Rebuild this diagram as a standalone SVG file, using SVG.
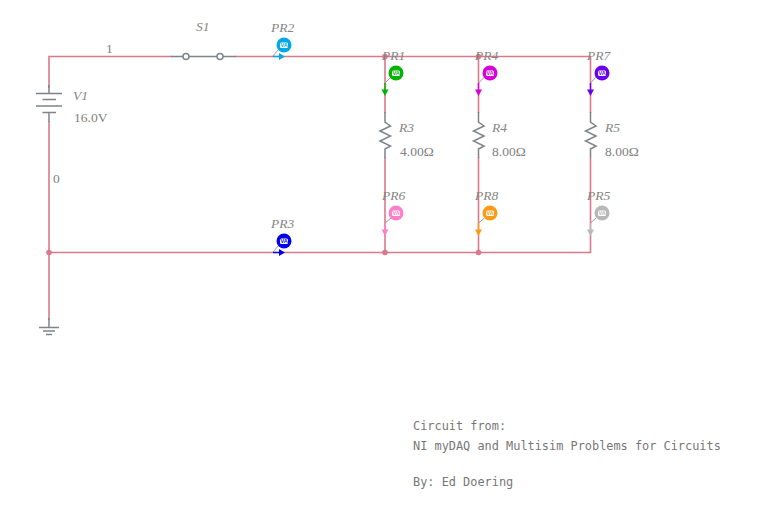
<svg xmlns="http://www.w3.org/2000/svg" width="778" height="510" viewBox="0 0 778 510">
<style>
.w{stroke:#d9798a;stroke-width:1.6;fill:none}
.c{stroke:#7f8488;stroke-width:1.5;fill:none}
.j{fill:#d9798a}
.l{font:italic 13.5px "Liberation Serif",serif;fill:#858585}
.v{font:13.5px "Liberation Serif",serif;fill:#808080}
.m{font:11.9px "DejaVu Sans Mono","Liberation Mono",monospace;fill:#777}
.pt{font:bold 5.5px "Liberation Sans",sans-serif;text-anchor:middle}
.bx{fill:#fff}
.ld{stroke:#999;stroke-width:1;fill:none}
</style>
<rect width="778" height="510" fill="#fff"/>
<g id="connectors">
<path class="w" d="M49 88V56.500H172M235 56.500H590.500V113M49 121V320M49 252.500H590.500V158M385 56.500V113M478.500 56.500V113M385 157V252.500M478.500 157V252.500"/>
<circle class="j" cx="49" cy="252.500" r="2.800"/><circle class="j" cx="385" cy="252.500" r="2.800"/><circle class="j" cx="478.500" cy="252.500" r="2.800"/>
<circle class="j" cx="385" cy="56.500" r="2.800"/><circle class="j" cx="478.500" cy="56.500" r="2.800"/>
<text class="v" x="106" y="53">1</text><text class="v" x="53" y="183">0</text>
</g>
<g id="V1"><path class="c" d="M49 85V93M36 93.500H62M42.500 99.500H56M36 106H62M42.500 112.500H56M49 112V122"/><text class="l" x="73" y="100">V1</text><text class="v" x="74" y="122">16.0V</text></g>
<g id="S1"><path class="c" d="M171 56.500H183M189 56.500H217M223 56.500H236"/><circle class="c" cx="186" cy="56.500" r="3"/><circle class="c" cx="220" cy="56.500" r="3"/><text class="l" x="196" y="31">S1</text></g>
<g id="GND"><path class="c" d="M49 318V327M39 327.500H59M43 331H55M46 334.500H52"/></g>
<g id="R3"><path class="c" d="M385 112V122L390.500 126L380 131L390.500 136L380 141L390.500 146L385 149V158"/><text class="l" x="399" y="132">R3</text><text class="v" x="400" y="156">4.00Ω</text></g>
<g id="R4"><path class="c" d="M478.500 112V122L484 126L473.500 131L484 136L473.500 141L484 146L478.500 149V158"/><text class="l" x="492" y="132">R4</text><text class="v" x="492" y="156">8.00Ω</text></g>
<g id="R5"><path class="c" d="M590.500 112V122L596 126L585.500 131L596 136L585.500 141L596 146L590.500 149V158"/><text class="l" x="605" y="132">R5</text><text class="v" x="605" y="156">8.00Ω</text></g>
<g id="PR1"><path class="ld" d="M391 77L385 83"/><path d="M385 83V90" stroke="#00b400" stroke-width="1.400"/><path d="M381.500 89.500H388.500L385 96Z" fill="#00b400"/><circle cx="396" cy="73" r="7.500" fill="#00b400"/><rect class="bx" x="392" y="70.500" width="8" height="5.500" rx="1.500"/><text class="pt" x="396" y="75.300" fill="#00b400">VA</text><text class="l" x="382" y="60">PR1</text></g>
<g id="PR4"><path class="ld" d="M484.500 77L478.500 83"/><path d="M478.500 83V90" stroke="#d800d8" stroke-width="1.400"/><path d="M475 89.500H482L478.500 96Z" fill="#d800d8"/><circle cx="490" cy="73" r="7.500" fill="#d800d8"/><rect class="bx" x="486" y="70.500" width="8" height="5.500" rx="1.500"/><text class="pt" x="490" y="75.300" fill="#d800d8">VA</text><text class="l" x="475" y="60">PR4</text></g>
<g id="PR7"><path class="ld" d="M596 77L590.500 83"/><path d="M590.500 83V90" stroke="#6a00f0" stroke-width="1.400"/><path d="M587 89.500H594L590.500 96Z" fill="#6a00f0"/><circle cx="602" cy="73" r="7.500" fill="#6a00f0"/><rect class="bx" x="598" y="70.500" width="8" height="5.500" rx="1.500"/><text class="pt" x="602" y="75.300" fill="#6a00f0">VA</text><text class="l" x="587" y="60">PR7</text></g>
<g id="PR6"><path class="ld" d="M391 218L385 223"/><path d="M385 223V230" stroke="#ff80c8" stroke-width="1.400"/><path d="M381.500 229.500H388.500L385 236Z" fill="#ff80c8"/><circle cx="396" cy="213" r="7.500" fill="#ff80c8"/><rect class="bx" x="392" y="210.500" width="8" height="5.500" rx="1.500"/><text class="pt" x="396" y="215.300" fill="#ff80c8">VA</text><text class="l" x="382" y="200">PR6</text></g>
<g id="PR8"><path class="ld" d="M484.500 218L478.500 223"/><path d="M478.500 223V230" stroke="#ff9a14" stroke-width="1.400"/><path d="M475 229.500H482L478.500 236Z" fill="#ff9a14"/><circle cx="490" cy="213" r="7.500" fill="#ff9a14"/><rect class="bx" x="486" y="210.500" width="8" height="5.500" rx="1.500"/><text class="pt" x="490" y="215.300" fill="#ff9a14">VA</text><text class="l" x="475" y="200">PR8</text></g>
<g id="PR5"><path class="ld" d="M596 218L590.500 223"/><path d="M590.500 223V230" stroke="#b8b8b8" stroke-width="1.400"/><path d="M587 229.500H594L590.500 236Z" fill="#b8b8b8"/><circle cx="602" cy="213" r="7.500" fill="#b8b8b8"/><rect class="bx" x="598" y="210.500" width="8" height="5.500" rx="1.500"/><text class="pt" x="602" y="215.300" fill="#b8b8b8">VA</text><text class="l" x="587" y="200">PR5</text></g>
<g id="PR2"><path class="ld" d="M278 50L273 56"/><path d="M273 56.500H280" stroke="#00a8e8" stroke-width="1.400"/><path d="M279 53V60L285 56.500Z" fill="#00a8e8"/><circle cx="284" cy="45" r="7.500" fill="#00a8e8"/><rect class="bx" x="280" y="42.500" width="8" height="5.500" rx="1.500"/><text class="pt" x="284" y="47.300" fill="#00a8e8">VA</text><text class="l" x="271" y="32">PR2</text></g>
<g id="PR3"><path class="ld" d="M278 246L273 252"/><path d="M273 252.500H280" stroke="#0000f0" stroke-width="1.400"/><path d="M279 249V256L285 252.500Z" fill="#0000f0"/><circle cx="284" cy="241" r="7.500" fill="#0000f0"/><rect class="bx" x="280" y="238.500" width="8" height="5.500" rx="1.500"/><text class="pt" x="284" y="243.300" fill="#0000f0">VA</text><text class="l" x="271" y="228">PR3</text></g>
<g id="note"><text class="m" x="413" y="430">Circuit from:</text><text class="m" x="413" y="449.500">NI myDAQ and Multisim Problems for Circuits</text><text class="m" x="413" y="486">By: Ed Doering</text></g>
</svg>
